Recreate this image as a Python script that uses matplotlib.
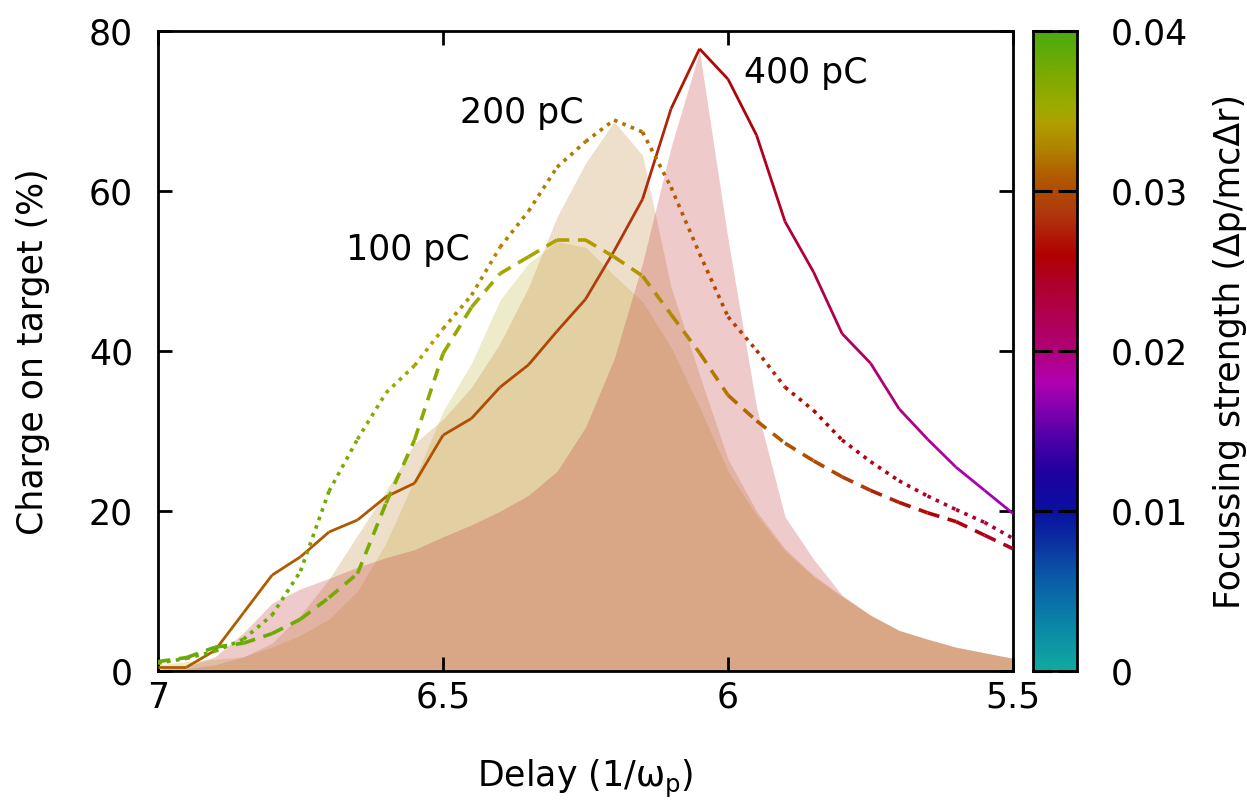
import numpy as np
import matplotlib
matplotlib.use("Agg")
import matplotlib.pyplot as plt
from matplotlib.collections import LineCollection
from matplotlib.colors import LinearSegmentedColormap

plt.rcParams['font.family'] = ['DejaVu Sans']
plt.rcParams['mathtext.default'] = 'regular'

# delay grid (1/omega_p)
delay = [7.0, 6.95, 6.9, 6.85, 6.8, 6.75, 6.7, 6.65, 6.6, 6.55, 6.5,
         6.45, 6.4, 6.35, 6.3, 6.25, 6.2, 6.15, 6.1, 6.05, 6.0,
         5.95, 5.9, 5.85, 5.8, 5.75, 5.7, 5.65, 5.6, 5.55, 5.5]

# charge on target (%) - lines
q400 = [0.5, 0.5, 2.6, 7.3, 12.0, 14.3, 17.4, 18.9, 21.8, 23.5, 29.5,
        31.6, 35.5, 38.3, 42.5, 46.5, 52.5, 59.0, 70.3, 77.8, 74.0,
        67.0, 56.2, 49.9, 42.2, 38.5, 32.8, 29.0, 25.5, 22.6, 19.7]
q200 = [1.0, 1.6, 2.5, 4.0, 7.0, 12.5, 22.5, 29.0, 34.8, 38.2, 42.8,
        47.0, 53.0, 57.5, 63.0, 66.2, 68.9, 67.4, 60.5, 52.2, 44.3,
        40.1, 35.5, 32.6, 28.9, 26.2, 23.8, 21.9, 20.2, 18.6, 16.6]
q100 = [1.2, 1.7, 3.0, 3.5, 4.7, 6.5, 9.2, 12.2, 21.0, 28.9, 39.7,
        45.5, 49.7, 51.8, 53.9, 53.9, 51.8, 49.4, 44.6, 39.8, 34.5,
        31.3, 28.5, 26.3, 24.3, 22.6, 21.1, 19.8, 18.7, 17.0, 15.3]

# focussing strength along each line
s400 = [0.0310, 0.0310, 0.0310, 0.0309, 0.0308, 0.0308, 0.0307, 0.0306, 0.0305, 0.0304, 0.0303,
        0.0302, 0.0300, 0.0298, 0.0295, 0.0292, 0.0288, 0.0282, 0.0275, 0.0268, 0.0260,
        0.0250, 0.0240, 0.0230, 0.0220, 0.0210, 0.0200, 0.0192, 0.0184, 0.0178, 0.0172]
s200 = [0.0385, 0.0385, 0.0384, 0.0383, 0.0382, 0.0380, 0.0377, 0.0372, 0.0362, 0.0350, 0.0338,
        0.0332, 0.0328, 0.0325, 0.0323, 0.0322, 0.0321, 0.0318, 0.0313, 0.0306, 0.0297,
        0.0287, 0.0275, 0.0262, 0.0255, 0.0250, 0.0246, 0.0243, 0.0240, 0.0238, 0.0236]
s100 = [0.0385, 0.0385, 0.0384, 0.0383, 0.0382, 0.0380, 0.0378, 0.0375, 0.0372, 0.0368, 0.0362,
        0.0356, 0.0350, 0.0347, 0.0344, 0.0342, 0.0340, 0.0336, 0.0332, 0.0326, 0.0320,
        0.0312, 0.0305, 0.0300, 0.0294, 0.0282, 0.0270, 0.0262, 0.0255, 0.0248, 0.0242]

# shaded areas
f400 = [0.2, 0.6, 1.8, 4.8, 8.5, 10.3, 11.6, 13.0, 14.2, 15.2, 16.8,
        18.3, 20.0, 22.0, 25.0, 30.5, 39.0, 51.0, 65.5, 77.5, 54.0,
        33.0, 19.3, 14.0, 9.5, 7.0, 5.1, 4.0, 3.0, 2.3, 1.6]
f200 = [0.1, 0.3, 0.8, 1.8, 3.5, 7.0, 11.5, 17.0, 22.5, 28.5, 31.5,
        35.5, 41.0, 48.0, 56.8, 63.5, 68.7, 64.5, 48.0, 37.0, 26.5,
        20.0, 15.3, 12.0, 9.4, 7.0, 5.1, 4.0, 3.0, 2.3, 1.6]
f100 = [0.8, 1.2, 1.5, 1.8, 3.0, 4.5, 6.5, 10.0, 16.0, 24.0, 32.5,
        38.5, 46.4, 51.0, 53.7, 53.0, 49.5, 46.2, 40.5, 33.0, 25.0,
        19.5, 15.0, 11.8, 9.3, 7.0, 5.1, 4.0, 3.0, 2.3, 1.6]

labels = ["400 pC", "200 pC", "100 pC"]
label_pos = [(5.863, 74.8), (6.361, 69.8), (6.561, 52.6)]

xticks = [7, 6.5, 6, 5.5]
xticklabels = ["7", "6.5", "6", "5.5"]
yticks = [0, 20, 40, 60, 80]
cticks = [0, 0.01, 0.02, 0.03, 0.04]
cticklabels = ["0", "0.01", "0.02", "0.03", "0.04"]

cmap = LinearSegmentedColormap.from_list("focus", [
    (0.0, "#10aaa0"), (0.08, "#0a80a8"), (0.1475, "#0a58a8"), (0.20, "#0a30a0"),
    (0.25, "#0a10a0"), (0.31, "#2000a0"), (0.365, "#5000a8"), (0.406, "#8000b0"),
    (0.4525, "#b000b0"), (0.50, "#b0007a"), (0.555, "#b00050"), (0.60, "#b00030"),
    (0.65, "#b00000"), (0.72, "#b03a10"), (0.75, "#b04a00"), (0.78, "#b06000"),
    (0.815, "#b08000"), (0.86, "#b0a000"), (0.88, "#a0aa00"), (0.93, "#80aa00"),
    (1.0, "#4aaa10")])
vmin, vmax = 0.0, 0.04

FS = 25


def colored_line(ax, x, y, s, ls, lw):
    pts = np.column_stack([x, y])
    segs = np.stack([pts[:-1], pts[1:]], axis=1)
    mid = (np.asarray(s[:-1]) + np.asarray(s[1:])) / 2
    lc = LineCollection(segs, cmap=cmap, linestyles=ls, linewidths=lw,
                        capstyle='butt', zorder=3)
    lc.set_array(mid)
    lc.set_clim(vmin, vmax)
    ax.add_collection(lc)


def main():
    fig = plt.figure(figsize=(12.47, 8), dpi=100)
    ax = fig.add_axes([0.1267, 0.161, 0.6857, 0.8])

    a = 0.25
    ax.fill_between(delay, 0, f100, color=(0.75, 0.69, 0.2), alpha=a, lw=0, zorder=1)
    ax.fill_between(delay, 0, f200, color=(0.75, 0.5, 0.18), alpha=a, lw=0, zorder=1)
    ax.fill_between(delay, 0, f400, color=(0.75, 0.18, 0.18), alpha=a, lw=0, zorder=1)

    colored_line(ax, delay, q400, s400, 'solid', 2.0)
    colored_line(ax, delay, q200, s200, (0, (1.0, 1.5)), 2.6)
    colored_line(ax, delay, q100, s100, (0, (3.4, 2.4)), 2.6)

    for txt, (px, py) in zip(labels, label_pos):
        ax.text(px, py, txt, fontsize=FS, ha='center', va='center', zorder=4)

    ax.set_xlim(7, 5.5)
    ax.set_ylim(0, 80)
    ax.set_xticks(xticks)
    ax.set_xticklabels(xticklabels)
    ax.set_yticks(yticks)
    ax.tick_params(direction='in', length=10, width=2, labelsize=FS,
                   top=True, right=True)
    ax.tick_params(axis='x', pad=7)
    ax.tick_params(axis='y', pad=18)
    for sp in ax.spines.values():
        sp.set_linewidth(2.0)
    ax.set_xlabel("Delay (1/ω$_p$)", fontsize=FS, labelpad=31)
    ax.set_ylabel("Charge on target (%)", fontsize=FS, labelpad=28)

    cax = fig.add_axes([0.8284, 0.161, 0.0353, 0.8])
    grad = np.linspace(vmin, vmax, 400).reshape(-1, 1)
    cax.imshow(grad, aspect='auto', cmap=cmap, origin='lower',
               extent=[0, 1, vmin, vmax], vmin=vmin, vmax=vmax)
    cax.set_xticks([])
    cax.set_yticks(cticks)
    cax.set_yticklabels(cticklabels)
    cax.tick_params(axis='y', direction='in', length=14, width=2.2,
                    left=True, right=True, labelleft=False, labelright=True,
                    labelsize=FS, pad=24)
    for sp in cax.spines.values():
        sp.set_linewidth(2.0)
    cax.yaxis.set_label_position('right')
    cax.set_ylabel("Focussing strength (Δp/mcΔr)", fontsize=FS, labelpad=18)

    fig.savefig("out.png", dpi=100)


if __name__ == "__main__":
    main()
